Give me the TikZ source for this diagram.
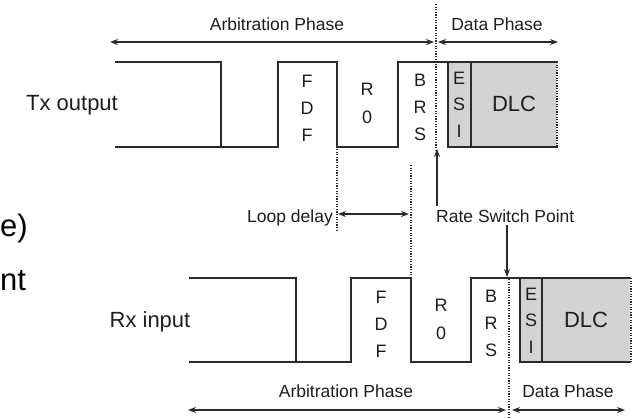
\documentclass[tikz,border=0pt]{standalone}
\usepackage{fontspec}
\setmainfont{Liberation Sans}
\usetikzlibrary{arrows.meta}
\definecolor{linec}{HTML}{2A2A2A}
\definecolor{txtc}{HTML}{1E1E1E}
\definecolor{gfill}{HTML}{D3D3D3}
\begin{document}
\begin{tikzpicture}[x=1pt,y=-1pt,
  wave/.style={draw=linec, line width=1.5pt, line join=miter, line cap=rect},
  dotline/.style={draw=linec, line width=1.3pt, dash pattern=on 1.2pt off 1.4pt},
  dimarrow/.style={draw=linec, line width=1.2pt, {Stealth[length=8pt,width=6pt]}-{Stealth[length=8pt,width=6pt]}},
  onearrow/.style={draw=linec, line width=1.2pt, -{Stealth[length=8pt,width=6pt]}},
  lbl/.style={text=txtc, inner sep=0pt, font=\fontsize{17.5}{17.5}\selectfont},
  sig/.style={text=txtc, inner sep=0pt, font=\fontsize{22}{22}\selectfont},
  bit/.style={text=txtc, inner sep=0pt, font=\fontsize{18}{18}\selectfont},
  frag/.style={text=black, inner sep=0pt, font=\fontsize{31}{31}\selectfont}]
\useasboundingbox (0,0) rectangle (636,418);
\fill[white] (0,0) rectangle (636,418);

% fragments of cut text
\node[frag, anchor=base west] (frage) at (0,236) {e)};
\node[frag, anchor=base west] (fragnt) at (0,290) {nt};

% ---------- Tx ----------
\fill[gfill] (448,62) rectangle (557,147);
\draw[wave] (116,62) -- (221,62) -- (221,147);
\draw[wave] (116,147) -- (278,147) -- (278,62) -- (337,62) -- (337,147) -- (398,147) -- (398,62) -- (557,62);
\draw[wave] (448,62) -- (448,147) -- (557,147);
\draw[wave] (471,62) -- (471,147);
\draw[dotline] (557,62) -- (557,147);

\node[sig, anchor=base] (txlbl) at (72,110) {Tx output};
\node[bit] (tf1) at (307,81) {F};
\node[bit] (td) at (307,108) {D};
\node[bit] (tf2) at (307,135) {F};
\node[bit] (tr) at (367,89) {R};
\node[bit] (t0) at (367,117) {0};
\node[bit] (tb) at (420,80) {B};
\node[bit] (tr2) at (420,107) {R};
\node[bit] (ts) at (420,134) {S};
\node[bit] (te) at (459,78) {E};
\node[bit] (ts2) at (459,104) {S};
\node[bit] (ti) at (459,131) {I};
\node[sig] (tdlc) at (514,104) {DLC};

% top phase arrows
\coordinate (tal) at (110,42);
\coordinate (tar) at (434,42);
\coordinate (tdl) at (438,42);
\coordinate (tdr) at (558,42);
\draw[dimarrow] (tal) -- (tar);
\draw[dimarrow] (tdl) -- (tdr);
\node[lbl, anchor=base] (tarb) at (277,30) {Arbitration Phase};
\node[lbl, anchor=base] (tdat) at (497,30) {Data Phase};
\draw[dotline] (436,4) -- (436,150);

% ---------- middle ----------
\draw[dotline] (337,149) -- (337,232);
\draw[dotline] (411,165) -- (411,277);
\coordinate (ldl) at (338,214);
\coordinate (ldr) at (409,214);
\draw[dimarrow] (ldl) -- (ldr);
\node[lbl, anchor=base east] (loop) at (333,222) {Loop delay};
\node[lbl, anchor=base west] (rsp) at (436,222) {Rate Switch Point};
\coordinate (rsu0) at (437,206);
\coordinate (rsu1) at (437,149);
\draw[onearrow] (rsu0) -- (rsu1);
\coordinate (rsd0) at (507,225);
\coordinate (rsd1) at (507,277);
\draw[onearrow] (rsd0) -- (rsd1);

% ---------- Rx ----------
\fill[gfill] (520,278) rectangle (630,362);
\draw[wave] (190,278) -- (296,278) -- (296,362);
\draw[wave] (190,362) -- (351,362) -- (351,278) -- (411,278) -- (411,362) -- (471,362) -- (471,278) -- (630,278);
\draw[wave] (520,278) -- (520,362) -- (630,362);
\draw[wave] (542,278) -- (542,362);
\draw[dotline] (631,278) -- (631,362);
\draw[dotline] (509,279) -- (509,418);

\node[sig, anchor=base] (rxlbl) at (150,327) {Rx input};
\node[bit] (rf1) at (381,297) {F};
\node[bit] (rd) at (381,324) {D};
\node[bit] (rf2) at (381,351) {F};
\node[bit] (rr) at (441,305) {R};
\node[bit] (r0) at (441,333) {0};
\node[bit] (rb) at (491,296) {B};
\node[bit] (rr2) at (491,323) {R};
\node[bit] (rs) at (491,350) {S};
\node[bit] (re) at (531,294) {E};
\node[bit] (rs2) at (531,320) {S};
\node[bit] (ri) at (531,347) {I};
\node[sig] (rdlc) at (586,320) {DLC};

% bottom phase arrows
\coordinate (bal) at (188,410);
\coordinate (bar) at (506,410);
\coordinate (bdl) at (512,410);
\coordinate (bdr) at (625,410);
\draw[dimarrow] (bal) -- (bar);
\draw[dimarrow] (bdl) -- (bdr);
\node[lbl, anchor=base] (barb) at (346,397) {Arbitration Phase};
\node[lbl, anchor=base] (bdat) at (568,397) {Data Phase};
\end{tikzpicture}
\end{document}
